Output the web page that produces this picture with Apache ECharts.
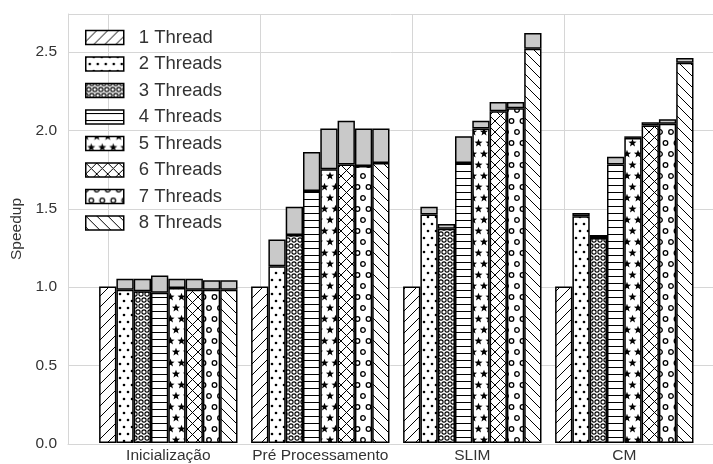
<!DOCTYPE html>
<html>
<head>
<meta charset="utf-8">
<script src="https://cdn.jsdelivr.net/npm/echarts@6/dist/echarts.min.js"></script>
<style>
html,body{margin:0;padding:0;background:#fff;}
#chart{width:713px;height:464px;}
</style>
</head>
<body>
<div id="chart"></div>
<script>
// ---- data ----
const categories = ['Inicialização', 'Pré Processamento', 'SLIM', 'CM'];
const threadNames = ['1 Thread', '2 Threads', '3 Threads', '4 Threads', '5 Threads', '6 Threads', '7 Threads', '8 Threads'];
// lower (hatched) part of each bar, per thread, per category
const speedupLow = [
  [1.00, 1.00, 1.00, 1.00],
  [0.98, 1.13, 1.46, 1.45],
  [0.97, 1.33, 1.37, 1.31],
  [0.96, 1.61, 1.79, 1.78],
  [0.99, 1.75, 2.01, 1.95],
  [0.98, 1.78, 2.12, 2.03],
  [0.98, 1.77, 2.14, 2.04],
  [0.98, 1.79, 2.52, 2.43]
];
// top of the grey part of each bar
const speedupHigh = [
  [1.00, 1.00, 1.00, 1.00],
  [1.05, 1.30, 1.51, 1.47],
  [1.05, 1.51, 1.40, 1.33],
  [1.07, 1.86, 1.96, 1.83],
  [1.05, 2.01, 2.06, 1.96],
  [1.05, 2.06, 2.18, 2.05],
  [1.04, 2.01, 2.18, 2.07],
  [1.04, 2.01, 2.62, 2.46]
];
const yTicks = [0.0, 0.5, 1.0, 1.5, 2.0, 2.5];

// ---- hatch patterns ----
function tile(w, h, draw) {
  const c = document.createElement('canvas');
  c.width = w; c.height = h;
  const ctx = c.getContext('2d');
  ctx.fillStyle = '#fff'; ctx.fillRect(0, 0, w, h);
  ctx.strokeStyle = '#000'; ctx.fillStyle = '#000'; ctx.lineWidth = 1;
  draw(ctx, w, h);
  return { image: c, repeat: 'repeat' };
}
function stagger(w, h, fn) {
  [[0,0],[w,0],[0,h],[w,h],[w/2,h/2]].forEach(p => fn(p[0], p[1]));
}
function star(ctx, cx, cy, R, r) {
  ctx.beginPath();
  for (let i = 0; i < 10; i++) {
    const a = -Math.PI/2 + i*Math.PI/5;
    const rad = i % 2 ? r : R;
    const x = cx + rad*Math.cos(a), y = cy + rad*Math.sin(a);
    i ? ctx.lineTo(x, y) : ctx.moveTo(x, y);
  }
  ctx.closePath(); ctx.fill();
}
const patterns = [
  tile(11, 11, (ctx) => { ctx.beginPath(); for (let k = -1; k <= 1; k++) { ctx.moveTo(k*11, 11); ctx.lineTo(k*11 + 11, 0); } ctx.stroke(); }),
  tile(8, 14, (ctx, w, h) => stagger(w, h, (x, y) => { ctx.beginPath(); ctx.arc(x, y, 1.3, 0, Math.PI*2); ctx.fill(); })),
  tile(6, 12, (ctx, w, h) => stagger(w, h, (x, y) => { ctx.beginPath(); ctx.arc(x, y, 2.1, 0, Math.PI*2); ctx.lineWidth = 1.1; ctx.stroke(); })),
  tile(7, 7, (ctx) => { ctx.beginPath(); ctx.moveTo(0, 3.5); ctx.lineTo(7, 3.5); ctx.stroke(); }),
  tile(11, 22, (ctx, w, h) => stagger(w, h, (x, y) => star(ctx, x, y, 4.3, 1.8))),
  tile(11, 11, (ctx) => { ctx.beginPath(); for (let k = -1; k <= 1; k++) { ctx.moveTo(k*11, 11); ctx.lineTo(k*11 + 11, 0); ctx.moveTo(k*11, 0); ctx.lineTo(k*11 + 11, 11); } ctx.stroke(); }),
  tile(11, 22, (ctx, w, h) => stagger(w, h, (x, y) => { ctx.beginPath(); ctx.arc(x, y, 2.3, 0, Math.PI*2); ctx.lineWidth = 1.3; ctx.stroke(); })),
  tile(11, 11, (ctx) => { ctx.beginPath(); for (let k = -1; k <= 1; k++) { ctx.moveTo(k*11, 0); ctx.lineTo(k*11 + 11, 11); } ctx.stroke(); })
];

const gridColor = '#d6d6d6';
const textColor = '#333';
const font = 'Liberation Sans, Arial, sans-serif';
const yMax = 2.742;

const series = [];
threadNames.forEach((name, i) => {
  const cap = speedupHigh[i].map((v, j) => {
    const d = +(v - speedupLow[i][j]).toFixed(3);
    return d > 0 ? d : null;
  });
  const s = {
    name: name, type: 'bar', stack: 's' + i, barWidth: 17.3, barGap: '0%',
    xAxisIndex: 1, yAxisIndex: 1,
    data: speedupLow[i],
    itemStyle: { color: patterns[i], borderColor: '#000', borderWidth: 1.5 },
    emphasis: { disabled: true }
  };
  if (i === 0) {
    s.markLine = {
      silent: true, symbol: 'none', z: 1, animation: false,
      label: { show: false },
      lineStyle: { color: gridColor, width: 1, type: 'solid' },
      data: categories.map((c) => ({ xAxis: c }))
    };
  }
  series.push(s);
  series.push({
    name: 'var' + i, type: 'bar', stack: 's' + i, barWidth: 17.3, barGap: '0%',
    xAxisIndex: 1, yAxisIndex: 1,
    data: cap,
    itemStyle: { color: '#c9c9c9', borderColor: '#000', borderWidth: 1.5 },
    emphasis: { disabled: true }
  });
});

const chart = echarts.init(document.getElementById('chart'), null, { renderer: 'canvas' });
chart.setOption({
  animation: false,
  backgroundColor: '#fff',
  grid: [
    { left: 68, right: 0, top: 14, bottom: 20 },
    { left: 92.3, right: 12.7, top: 14, bottom: 20 }
  ],
  legend: {
    data: threadNames,
    orient: 'vertical',
    left: 85, top: 28, padding: 0,
    itemWidth: 38, itemHeight: 14, itemGap: 7.5,
    icon: 'rect',
    itemStyle: { borderColor: '#000', borderWidth: 1.5 },
    textStyle: { fontFamily: font, fontSize: 18.5, color: textColor, padding: [0, 0, 0, 10] },
    selectedMode: false
  },
  xAxis: [
    {
      gridIndex: 0, type: 'value', min: 0, max: 1,
      axisLine: { show: true, onZero: false, lineStyle: { color: gridColor, width: 1 } },
      axisTick: { show: false }, splitLine: { show: false }, axisLabel: { show: false }
    },
    {
      gridIndex: 1, type: 'category', data: categories,
      axisLine: { show: false }, axisTick: { show: false }, splitLine: { show: false },
      axisLabel: { fontFamily: font, fontSize: 15.5, color: textColor, margin: 5, interval: 0 }
    }
  ],
  yAxis: [
    {
      gridIndex: 0, type: 'value', min: 0, max: yMax, interval: 0.5,
      name: 'Speedup', nameLocation: 'middle', nameGap: 38,
      nameTextStyle: { fontFamily: font, fontSize: 15.5, color: textColor },
      axisLine: { show: true, lineStyle: { color: gridColor, width: 1 } },
      axisTick: { show: false },
      splitLine: { show: true, lineStyle: { color: gridColor, width: 1 } },
      axisLabel: {
        fontFamily: font, fontSize: 15.5, color: textColor, margin: 11,
        formatter: (v) => yTicks.some(t => Math.abs(t - v) < 1e-6) ? v.toFixed(1) : ''
      }
    },
    {
      gridIndex: 1, type: 'value', min: 0, max: yMax,
      axisLine: { show: false }, axisTick: { show: false }, splitLine: { show: false }, axisLabel: { show: false }
    }
  ],
  series: series
});
</script>
</body>
</html>
